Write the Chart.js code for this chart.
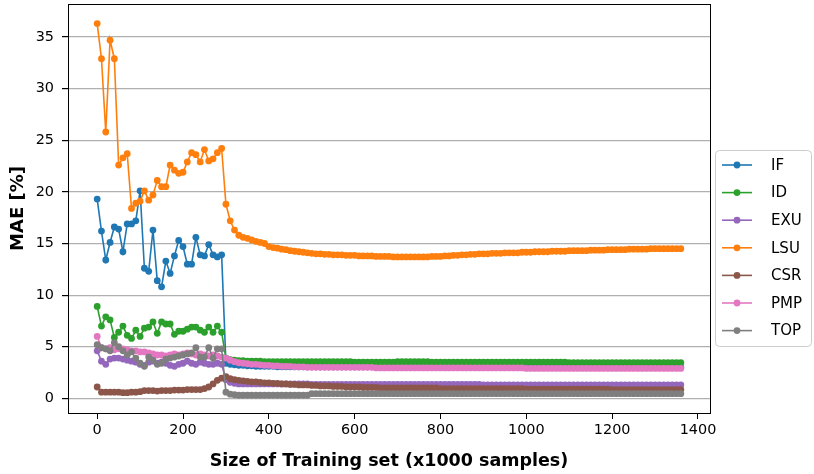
<!DOCTYPE html>
<html>
<head>
<meta charset="utf-8">
<script src="https://cdn.jsdelivr.net/npm/chart.js@4.4.1/dist/chart.umd.min.js"></script>
<style>
  html, body { margin: 0; padding: 0; background: #fff; }
  #wrap { width: 814px; height: 474px; }
</style>
</head>
<body>
<div id="wrap"><canvas id="chart" width="814" height="474"></canvas></div>
<script>
// training set sizes (x1000 samples)
const sizes = [
  0, 10, 20, 30, 40, 50, 60, 70, 80, 90,
  100, 110, 120, 130, 140, 150, 160, 170, 180, 190,
  200, 210, 220, 230, 240, 250, 260, 270, 280, 290,
  300, 310, 320, 330, 340, 350, 360, 370, 380, 390,
  400, 410, 420, 430, 440, 450, 460, 470, 480, 490,
  500, 510, 520, 530, 540, 550, 560, 570, 580, 590,
  600, 610, 620, 630, 640, 650, 660, 670, 680, 690,
  700, 710, 720, 730, 740, 750, 760, 770, 780, 790,
  800, 810, 820, 830, 840, 850, 860, 870, 880, 890,
  900, 910, 920, 930, 940, 950, 960, 970, 980, 990,
  1000, 1010, 1020, 1030, 1040, 1050, 1060, 1070, 1080, 1090,
  1100, 1110, 1120, 1130, 1140, 1150, 1160, 1170, 1180, 1190,
  1200, 1210, 1220, 1230, 1240, 1250, 1260, 1270, 1280, 1290,
  1300, 1310, 1320, 1330, 1340, 1350, 1360
];

const maeIF = [
  19.3, 16.2, 13.4, 15.1, 16.6, 16.4, 14.2, 16.9, 16.9, 17.2,
  20.1, 12.6, 12.3, 16.3, 11.4, 10.8, 13.3, 12.1, 13.8, 15.3,
  14.7, 13.0, 13.0, 15.6, 13.9, 13.8, 14.9, 13.9, 13.7, 13.9,
  3.4, 3.3, 3.25, 3.2, 3.2, 3.15, 3.15, 3.1, 3.1, 3.1,
  3.1, 3.1, 3.05, 3.05, 3.05, 3.05, 3.05, 3.05, 3.05, 3.05,
  3.05, 3.05, 3.05, 3.05, 3.05, 3.05, 3.05, 3.05, 3.05, 3.05,
  3.05, 3.05, 3.05, 3.05, 3.05, 3.0, 3.0, 3.0, 3.0, 3.0,
  3.0, 3.0, 3.0, 3.0, 3.0, 3.0, 3.0, 3.0, 3.0, 3.0,
  3.0, 3.0, 3.0, 3.0, 3.0, 3.0, 3.0, 3.0, 3.0, 3.0,
  3.0, 3.0, 3.0, 3.0, 3.0, 3.0, 3.0, 3.0, 3.0, 3.0,
  3.0, 3.0, 3.0, 3.0, 3.0, 3.0, 3.0, 3.0, 3.0, 3.0,
  3.0, 3.0, 3.0, 3.0, 3.0, 3.0, 3.0, 3.0, 3.0, 3.0,
  3.0, 3.0, 3.0, 3.0, 3.0, 3.0, 3.0, 3.0, 3.0, 3.0,
  3.0, 3.0, 3.0, 3.0, 3.0, 3.0, 3.0
];

const maeID = [
  8.9, 7.0, 7.9, 7.6, 5.9, 6.4, 7.0, 6.1, 5.8, 6.6,
  6.0, 6.8, 6.9, 7.4, 6.3, 7.4, 7.2, 7.2, 6.2, 6.5,
  6.5, 6.7, 6.9, 6.9, 6.6, 6.4, 6.9, 6.4, 7.0, 6.4,
  3.9, 3.75, 3.7, 3.65, 3.65, 3.6, 3.6, 3.6, 3.6, 3.55,
  3.55, 3.55, 3.55, 3.55, 3.55, 3.55, 3.55, 3.55, 3.55, 3.55,
  3.55, 3.55, 3.55, 3.55, 3.55, 3.55, 3.55, 3.55, 3.55, 3.55,
  3.5, 3.5, 3.5, 3.5, 3.5, 3.5, 3.5, 3.5, 3.5, 3.5,
  3.55, 3.55, 3.55, 3.55, 3.55, 3.55, 3.55, 3.55, 3.5, 3.5,
  3.5, 3.5, 3.5, 3.5, 3.5, 3.5, 3.5, 3.5, 3.5, 3.5,
  3.5, 3.5, 3.5, 3.5, 3.5, 3.5, 3.5, 3.5, 3.5, 3.5,
  3.5, 3.5, 3.5, 3.5, 3.5, 3.5, 3.5, 3.5, 3.5, 3.5,
  3.45, 3.45, 3.45, 3.45, 3.45, 3.45, 3.45, 3.45, 3.45, 3.45,
  3.45, 3.45, 3.45, 3.45, 3.45, 3.45, 3.45, 3.45, 3.45, 3.45,
  3.45, 3.45, 3.45, 3.45, 3.45, 3.45, 3.45
];

const maeEXU = [
  4.6, 3.6, 3.3, 3.8, 3.9, 3.9, 3.8, 3.7, 3.6, 3.5,
  3.3, 3.2, 3.5, 3.6, 3.4, 3.5, 3.4, 3.2, 3.1, 3.3,
  3.4, 3.6, 3.4, 3.3, 3.5, 3.4, 3.3, 3.3, 3.4, 3.3,
  1.8, 1.55, 1.45, 1.4, 1.4, 1.4, 1.4, 1.4, 1.4, 1.4,
  1.4, 1.4, 1.4, 1.4, 1.4, 1.4, 1.4, 1.4, 1.4, 1.4,
  1.35, 1.35, 1.35, 1.35, 1.35, 1.35, 1.35, 1.35, 1.35, 1.35,
  1.35, 1.35, 1.35, 1.35, 1.35, 1.35, 1.35, 1.35, 1.35, 1.35,
  1.35, 1.35, 1.35, 1.35, 1.35, 1.35, 1.35, 1.35, 1.35, 1.35,
  1.35, 1.35, 1.35, 1.35, 1.35, 1.35, 1.35, 1.35, 1.35, 1.35,
  1.3, 1.3, 1.3, 1.3, 1.3, 1.3, 1.3, 1.3, 1.3, 1.3,
  1.3, 1.3, 1.3, 1.3, 1.3, 1.3, 1.3, 1.3, 1.3, 1.3,
  1.3, 1.3, 1.3, 1.3, 1.3, 1.3, 1.3, 1.3, 1.3, 1.3,
  1.3, 1.3, 1.3, 1.3, 1.3, 1.3, 1.3, 1.3, 1.3, 1.3,
  1.3, 1.3, 1.3, 1.3, 1.3, 1.3, 1.3
];

const maeLSU = [
  36.3, 32.9, 25.8, 34.7, 32.9, 22.6, 23.3, 23.7, 18.4, 18.9,
  19.1, 20.1, 19.2, 19.7, 21.1, 20.5, 20.5, 22.6, 22.1, 21.8,
  21.9, 22.9, 23.8, 23.6, 22.9, 24.1, 23.0, 23.2, 23.8, 24.2,
  18.8, 17.2, 16.3, 15.8, 15.6, 15.5, 15.35, 15.2, 15.1, 15.0,
  14.7, 14.6, 14.55, 14.45, 14.4, 14.3, 14.25, 14.2, 14.15, 14.1,
  14.05, 14.0, 14.0, 13.95, 13.95, 13.9, 13.9, 13.9, 13.85, 13.85,
  13.85, 13.8, 13.8, 13.8, 13.8, 13.75, 13.75, 13.75, 13.75, 13.7,
  13.7, 13.7, 13.7, 13.7, 13.7, 13.7, 13.7, 13.7, 13.75, 13.75,
  13.75, 13.8, 13.8, 13.85, 13.85, 13.9, 13.9, 13.95, 13.95, 14.0,
  14.0, 14.0, 14.05, 14.05, 14.05, 14.1, 14.1, 14.1, 14.1, 14.15,
  14.15, 14.15, 14.2, 14.2, 14.2, 14.2, 14.25, 14.25, 14.25, 14.25,
  14.3, 14.3, 14.3, 14.3, 14.3, 14.35, 14.35, 14.35, 14.35, 14.4,
  14.4, 14.4, 14.4, 14.4, 14.45, 14.45, 14.45, 14.45, 14.45, 14.5,
  14.5, 14.5, 14.5, 14.5, 14.5, 14.5, 14.5
];

const maeCSR = [
  1.1, 0.6, 0.6, 0.6, 0.6, 0.6, 0.55, 0.55, 0.6, 0.6,
  0.65, 0.75, 0.75, 0.75, 0.7, 0.75, 0.75, 0.75, 0.8, 0.8,
  0.8, 0.85, 0.85, 0.85, 0.85, 0.95, 1.1, 1.4, 1.75, 1.95,
  2.1, 1.9, 1.8, 1.75, 1.7, 1.65, 1.6, 1.6, 1.55, 1.5,
  1.5, 1.45, 1.45, 1.4, 1.4, 1.35, 1.35, 1.3, 1.3, 1.3,
  1.25, 1.25, 1.2, 1.2, 1.2, 1.15, 1.15, 1.15, 1.1, 1.1,
  1.1, 1.1, 1.05, 1.05, 1.05, 1.05, 1.0, 1.0, 1.0, 1.0,
  1.0, 1.0, 1.0, 1.0, 1.0, 1.0, 1.0, 1.0, 1.0, 1.0,
  0.95, 0.95, 0.95, 0.95, 0.95, 0.95, 0.95, 0.95, 0.95, 0.95,
  0.95, 0.95, 0.95, 0.95, 0.95, 0.95, 0.95, 0.95, 0.95, 0.95,
  0.9, 0.9, 0.9, 0.9, 0.9, 0.9, 0.9, 0.9, 0.9, 0.9,
  0.9, 0.9, 0.9, 0.9, 0.9, 0.9, 0.9, 0.9, 0.9, 0.9,
  0.85, 0.85, 0.85, 0.85, 0.85, 0.85, 0.85, 0.85, 0.85, 0.85,
  0.85, 0.85, 0.85, 0.85, 0.85, 0.85, 0.85
];

const maePMP = [
  6.0, 4.9, 4.8, 4.9, 4.7, 4.8, 4.8, 4.7, 4.6, 4.6,
  4.5, 4.5, 4.4, 4.3, 4.2, 4.2, 4.1, 4.2, 4.3, 4.2,
  4.3, 4.4, 4.3, 4.2, 4.3, 4.2, 4.1, 4.2, 4.1, 4.0,
  3.9, 3.7, 3.55, 3.45, 3.4, 3.35, 3.3, 3.3, 3.25, 3.2,
  3.2, 3.15, 3.15, 3.1, 3.1, 3.1, 3.05, 3.05, 3.05, 3.0,
  3.0, 3.0, 3.0, 3.0, 3.0, 3.0, 3.0, 3.0, 3.0, 3.0,
  3.0, 3.0, 3.0, 3.0, 3.0, 2.95, 2.95, 2.95, 2.95, 2.95,
  2.95, 2.95, 2.95, 2.95, 2.95, 2.95, 2.95, 2.95, 2.95, 2.95,
  2.95, 2.95, 2.95, 2.95, 2.95, 2.95, 2.95, 2.95, 2.95, 2.95,
  2.95, 2.95, 2.95, 2.95, 2.95, 2.95, 2.95, 2.95, 2.95, 2.95,
  2.9, 2.9, 2.9, 2.9, 2.9, 2.9, 2.9, 2.9, 2.9, 2.9,
  2.9, 2.9, 2.9, 2.9, 2.9, 2.9, 2.9, 2.9, 2.9, 2.9,
  2.9, 2.9, 2.9, 2.9, 2.9, 2.9, 2.9, 2.9, 2.9, 2.9,
  2.9, 2.9, 2.9, 2.9, 2.9, 2.9, 2.9
];

const maeTOP = [
  5.2, 4.9, 4.8, 4.6, 5.4, 5.0, 4.6, 4.2, 4.5, 3.9,
  3.4, 3.1, 4.0, 3.7, 3.3, 3.4, 3.8, 3.9, 4.0, 4.1,
  4.2, 4.3, 4.4, 4.9, 4.0, 4.0, 4.9, 3.9, 4.8, 4.8,
  0.6, 0.4, 0.35, 0.3, 0.3, 0.3, 0.3, 0.3, 0.3, 0.3,
  0.3, 0.3, 0.3, 0.3, 0.3, 0.3, 0.3, 0.3, 0.3, 0.3,
  0.45, 0.45, 0.45, 0.45, 0.45, 0.45, 0.45, 0.45, 0.45, 0.45,
  0.45, 0.45, 0.45, 0.45, 0.45, 0.45, 0.45, 0.45, 0.45, 0.45,
  0.45, 0.45, 0.45, 0.45, 0.45, 0.45, 0.45, 0.45, 0.45, 0.45,
  0.45, 0.45, 0.45, 0.45, 0.45, 0.45, 0.45, 0.45, 0.45, 0.45,
  0.45, 0.45, 0.45, 0.45, 0.45, 0.45, 0.45, 0.45, 0.45, 0.45,
  0.45, 0.45, 0.45, 0.45, 0.45, 0.45, 0.45, 0.45, 0.45, 0.45,
  0.45, 0.45, 0.45, 0.45, 0.45, 0.45, 0.45, 0.45, 0.45, 0.45,
  0.45, 0.45, 0.45, 0.45, 0.45, 0.45, 0.45, 0.45, 0.45, 0.45,
  0.45, 0.45, 0.45, 0.45, 0.45, 0.45, 0.45
];

const seriesNames = ['IF', 'ID', 'EXU', 'LSU', 'CSR', 'PMP', 'TOP'];
const seriesValues = [maeIF, maeID, maeEXU, maeLSU, maeCSR, maePMP, maeTOP];
const seriesColors = ['#1f77b4', '#2ca02c', '#9467bd', '#ff7f0e', '#8c564b', '#e377c2', '#7f7f7f'];

const xTicks = [0, 200, 400, 600, 800, 1000, 1200, 1400];
const yTicks = [0, 5, 10, 15, 20, 25, 30, 35];

const tickFont = { family: 'DejaVu Sans', size: 14.4 };
const titleFont = { family: 'DejaVu Sans', size: 17.5, weight: 'bold' };

const datasets = seriesNames.map((name, i) => ({
  label: name,
  data: sizes.map((x, j) => ({ x: x, y: seriesValues[i][j] })),
  borderColor: seriesColors[i],
  backgroundColor: seriesColors[i],
  borderWidth: 1.6,
  pointRadius: 3.4,
  pointBorderWidth: 0,
  pointBackgroundColor: seriesColors[i],
  tension: 0,
  order: seriesNames.length - i   // later series drawn on top, like matplotlib
}));

// frame around the axes + boxed legend on the right
const framePlugin = {
  id: 'frame',
  afterDraw(chart) {
    const { ctx, chartArea: a } = chart;
    ctx.save();
    ctx.strokeStyle = '#000';
    ctx.lineWidth = 1;
    ctx.strokeRect(a.left + 0.5, a.top + 0.5, a.right - a.left, a.bottom - a.top);

    const bx = a.right + 5, by = 150, bw = 96, bh = 196;
    ctx.beginPath();
    ctx.roundRect(bx + 0.5, by + 0.5, bw, bh, 4);
    ctx.fillStyle = 'rgba(255,255,255,0.8)';
    ctx.fill();
    ctx.strokeStyle = '#cccccc';
    ctx.stroke();

    ctx.font = '15px "DejaVu Sans"';
    ctx.textBaseline = 'middle';
    seriesNames.forEach((name, i) => {
      const y = by + 15 + i * 27.6;
      ctx.strokeStyle = seriesColors[i];
      ctx.lineWidth = 1.6;
      ctx.beginPath();
      ctx.moveTo(bx + 7, y);
      ctx.lineTo(bx + 37, y);
      ctx.stroke();
      ctx.fillStyle = seriesColors[i];
      ctx.beginPath();
      ctx.arc(bx + 22, y, 3.4, 0, Math.PI * 2);
      ctx.fill();
      ctx.fillStyle = '#000';
      ctx.fillText(name, bx + 56, y + 1);
    });
    ctx.restore();
  }
};

new Chart(document.getElementById('chart'), {
  type: 'line',
  data: { datasets },
  options: {
    responsive: false,
    animation: false,
    devicePixelRatio: 1,
    layout: { padding: { top: 4, right: 104, left: 0, bottom: 0 } },
    plugins: {
      legend: { display: false },
      tooltip: { enabled: false }
    },
    scales: {
      x: {
        type: 'linear',
        min: -68,
        max: 1428,
        afterBuildTicks: (scale) => { scale.ticks = xTicks.map(v => ({ value: v })); },
        afterFit: (scale) => { scale.height = 61; scale.paddingLeft = 0; scale.paddingRight = 0; },
        grid: { drawOnChartArea: false, drawTicks: true, tickLength: 6, tickColor: '#000', color: '#000' },
        border: { display: true, color: '#000', width: 1 },
        ticks: { color: '#000', font: tickFont, padding: 3, maxRotation: 0, autoSkip: false,
                 callback: (v) => String(v) },
        title: { display: true, text: 'Size of Training set (x1000 samples)', color: '#000',
                 font: titleFont, padding: { top: 0, bottom: 2.5 } }
      },
      y: {
        min: -1.42,
        max: 38.2,
        afterBuildTicks: (scale) => { scale.ticks = yTicks.map(v => ({ value: v })); },
        afterFit: (scale) => { scale.width = 68; scale.paddingTop = 0; scale.paddingBottom = 0; },
        grid: { color: '#b0b0b0', lineWidth: 1.2, drawTicks: true, tickLength: 6, tickColor: '#000' },
        border: { display: true, color: '#000', width: 1 },
        ticks: { color: '#000', font: tickFont, padding: 8, callback: (v) => String(v) },
        title: { display: true, text: 'MAE [%]', color: '#000',
                 font: { family: 'DejaVu Sans', size: 18, weight: 'bold' }, padding: { top: 7.5, bottom: 0 } }
      }
    }
  },
  plugins: [framePlugin]
});
</script>
</body>
</html>
